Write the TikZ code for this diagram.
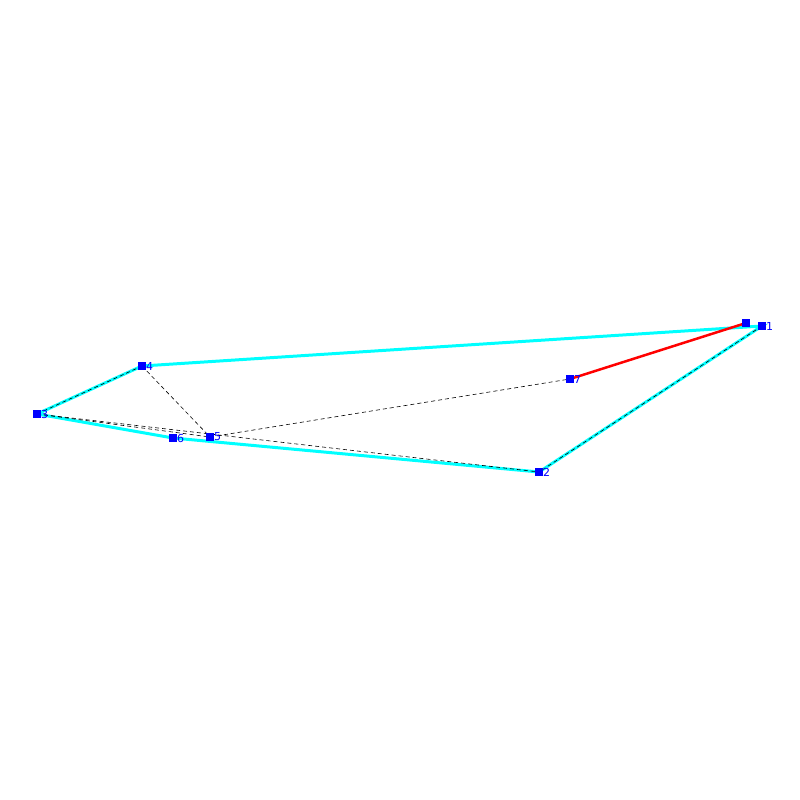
\documentclass[tikz,border=0pt]{standalone}
\usepackage{fontspec}
\setmainfont{DejaVu Sans}
\definecolor{aqua}{RGB}{0,255,255}
\definecolor{ptblue}{RGB}{0,0,255}
\definecolor{pured}{RGB}{255,0,0}
\begin{document}
\begin{tikzpicture}[x=1pt,y=-1pt,
  pt/.style={fill=ptblue,draw=none,minimum size=7.5pt,inner sep=0pt,outer sep=0pt},
  lab/.style={text=ptblue,font=\fontsize{11}{11}\selectfont,inner sep=0pt,anchor=west},
  cyanedge/.style={aqua,line width=3pt},
  rededge/.style={pured,line width=2.5pt},
  dashedge/.style={black,line width=0.6pt,dash pattern=on 4pt off 3pt}]
\useasboundingbox (0,0) rectangle (800,800);
\coordinate (c1) at (762,326);
\coordinate (c2) at (539,472);
\coordinate (c3) at (37,414);
\coordinate (c4) at (142,366);
\coordinate (c5) at (210,437);
\coordinate (c6) at (173,438);
\coordinate (c7) at (570,379);
\coordinate (c8) at (746,323);
% cyan edges
\draw[cyanedge] (c3) -- (c4) -- (c1) -- (c2) -- (c6) -- (c3);
% dashed edges
\draw[dashedge] (c3) -- (c4);
\draw[dashedge] (c1) -- (c2);
\draw[dashedge] (c3) -- (c2);
\draw[dashedge] (c3) -- (c5);
\draw[dashedge] (c4) -- (c5);
\draw[dashedge] (c5) -- (c7);
% red edge
\draw[rededge] (c7) -- (c8);
% nodes
\node[pt] (n1) at (c1) {};
\node[pt] (n2) at (c2) {};
\node[pt] (n3) at (c3) {};
\node[pt] (n4) at (c4) {};
\node[pt] (n5) at (c5) {};
\node[pt] (n6) at (c6) {};
\node[pt] (n7) at (c7) {};
\node[pt] (n8) at (c8) {};
\node[lab] (l1) at ([xshift=4pt]c1) {1};
\node[lab] (l2) at ([xshift=4pt]c2) {2};
\node[lab] (l3) at ([xshift=4pt]c3) {3};
\node[lab] (l4) at ([xshift=4pt]c4) {4};
\node[lab] (l5) at ([xshift=4pt]c5) {5};
\node[lab] (l6) at ([xshift=4pt]c6) {6};
\node[lab] (l7) at ([xshift=4pt]c7) {7};
\end{tikzpicture}
\end{document}
